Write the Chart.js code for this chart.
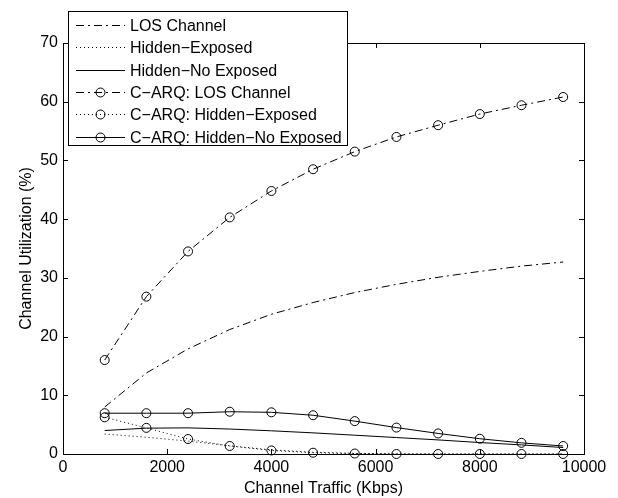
<!DOCTYPE html>
<html>
<head>
<meta charset="utf-8">
<script src="https://cdn.jsdelivr.net/npm/chart.js@4/dist/chart.umd.min.js"></script>
<style>
html,body{margin:0;padding:0;background:#fff;}
#wrap{width:618px;height:498px;}
</style>
</head>
<body>
<div id="wrap"><canvas id="c" width="618" height="498"></canvas></div>
<script>
// ---- data ----
const trafficKbps = [800, 1600, 2400, 3200, 4000, 4800, 5600, 6400, 7200, 8000, 8800, 9600];
const losChannel = [8.0, 13.8, 17.9, 21.2, 23.8, 25.8, 27.5, 28.9, 30.1, 31.1, 32.0, 32.7];
const hiddenExposed = [3.4, 2.85, 2.2, 1.4, 0.7, 0.3, 0.1, 0.05, 0, 0, 0, 0];
const hiddenNoExposed = [4.0, 4.4, 4.45, 4.25, 3.95, 3.6, 3.2, 2.8, 2.4, 1.95, 1.55, 1.1];
const carqLos = [16.0, 26.8, 34.5, 40.3, 44.8, 48.5, 51.5, 54.0, 56.0, 57.9, 59.4, 60.8];
const carqHiddenExposed = [6.25, 4.45, 2.55, 1.36, 0.6, 0.22, 0.08, 0, 0, 0, 0, 0];
const carqHiddenNoExposed = [6.95, 6.95, 6.95, 7.2, 7.1, 6.6, 5.6, 4.5, 3.5, 2.6, 1.9, 1.36];
const seriesNames = ["LOS Channel", "Hidden\u2212Exposed", "Hidden\u2212No Exposed",
  "C\u2212ARQ: LOS Channel", "C\u2212ARQ: Hidden\u2212Exposed", "C\u2212ARQ: Hidden\u2212No Exposed"];
const xTicks = [0, 2000, 4000, 6000, 8000, 10000];
const yTicks = [0, 10, 20, 30, 40, 50, 60, 70];
const xTitle = "Channel Traffic (Kbps)";
const yTitle = "Channel Utilization (%)";

const FONT = "'Liberation Sans', Arial, Helvetica, sans-serif";
const DASHDOT = [8, 4, 2, 4];
const DOT = [1, 3];

function pts(arr){ return trafficKbps.map((x,i)=>({x:x, y:arr[i]})); }
function ds(label, arr, dash, marker){
  return {
    label: label, data: pts(arr),
    borderColor: '#000', backgroundColor: 'rgba(0,0,0,0)',
    borderWidth: 1, borderDash: dash, tension: 0,
    pointRadius: marker ? 4.5 : 0, pointHoverRadius: marker ? 4.5 : 0,
    pointBorderColor: '#000', pointBackgroundColor: 'rgba(0,0,0,0)', pointBorderWidth: 1,
    pointStyle: 'circle', clip: false
  };
}

const datasets = [
  ds(seriesNames[0], losChannel, DASHDOT, false),
  ds(seriesNames[1], hiddenExposed, DOT, false),
  ds(seriesNames[2], hiddenNoExposed, [], false),
  ds(seriesNames[3], carqLos, DASHDOT, true),
  ds(seriesNames[4], carqHiddenExposed, DOT, true),
  ds(seriesNames[5], carqHiddenNoExposed, [], true)
];

// frame + inward ticks
const framePlugin = {
  id: 'frame',
  afterDatasetsDraw(chart){
    const {ctx, chartArea:a, scales} = chart;
    ctx.save();
    ctx.strokeStyle = '#000'; ctx.lineWidth = 1; ctx.setLineDash([]);
    ctx.strokeRect(Math.round(a.left)+0.5, Math.round(a.top)+0.5, Math.round(a.right-a.left), Math.round(a.bottom-a.top));
    const L = 5;
    ctx.beginPath();
    xTicks.forEach(v=>{
      const px = Math.round(scales.x.getPixelForValue(v))+0.5;
      ctx.moveTo(px, a.bottom); ctx.lineTo(px, a.bottom-L);
      ctx.moveTo(px, a.top); ctx.lineTo(px, a.top+L);
    });
    yTicks.forEach(v=>{
      const py = Math.round(scales.y.getPixelForValue(v))+0.5;
      ctx.moveTo(a.left, py); ctx.lineTo(a.left+L, py);
      ctx.moveTo(a.right, py); ctx.lineTo(a.right-L, py);
    });
    ctx.stroke();
    ctx.restore();
  }
};

// MATLAB-style legend box
const legendPlugin = {
  id: 'mlegend',
  afterDraw(chart){
    const ctx = chart.ctx;
    const bx = 68.5, by = 11.5, bw = 279, bh = 134;
    ctx.save();
    ctx.fillStyle = '#fff';
    ctx.fillRect(bx, by, bw, bh);
    ctx.strokeStyle = '#000'; ctx.lineWidth = 1; ctx.setLineDash([]);
    ctx.strokeRect(bx, by, bw, bh);
    ctx.font = '16px ' + FONT;
    ctx.textBaseline = 'middle';
    ctx.fillStyle = '#000';
    const rowY0 = 25, rowH = 22.3;
    chart.data.datasets.forEach((d, i)=>{
      const y = Math.round(rowY0 + i*rowH) + 0.5;
      ctx.strokeStyle = '#000'; ctx.lineWidth = 1;
      ctx.setLineDash(d.borderDash || []);
      ctx.beginPath(); ctx.moveTo(76, y); ctx.lineTo(125, y); ctx.stroke();
      if (d.pointRadius > 0){
        ctx.setLineDash([]);
        ctx.beginPath(); ctx.arc(100.5, y, 4.5, 0, Math.PI*2); ctx.stroke();
      }
      ctx.fillText(d.label, 130, y+1);
    });
    ctx.restore();
  }
};

new Chart(document.getElementById('c'), {
  type: 'line',
  data: { datasets: datasets },
  options: {
    responsive: false, animation: false,
    layout: { padding: { top: 43, right: 34, left: 0, bottom: 0 } },
    plugins: { legend: { display: false }, tooltip: { enabled: false } },
    scales: {
      x: {
        type: 'linear', min: 0, max: 10000,
        afterBuildTicks(s){ s.ticks = xTicks.map(v=>({value:v})); },
        afterFit(s){ s.height = 44; },
        grid: { display: false, drawTicks: false },
        border: { display: false },
        ticks: { color: '#000', font: { family: FONT, size: 16 }, padding: 4, maxRotation: 0, autoSkip: false,
                 callback: v => String(v) },
        title: { display: true, text: xTitle, color: '#000', font: { family: FONT, size: 16 }, padding: { top: 0, bottom: 0 } }
      },
      y: {
        type: 'linear', min: 0, max: 70,
        afterBuildTicks(s){ s.ticks = yTicks.map(v=>({value:v})); },
        afterFit(s){ s.width = 63; },
        grid: { display: false, drawTicks: false },
        border: { display: false },
        ticks: { color: '#000', font: { family: FONT, size: 16 }, padding: 5, autoSkip: false,
                 callback: v => String(v) },
        title: { display: true, text: yTitle, color: '#000', font: { family: FONT, size: 16 }, padding: { top: 17, bottom: 0 } }
      }
    }
  },
  plugins: [framePlugin, legendPlugin]
});
</script>
</body>
</html>
